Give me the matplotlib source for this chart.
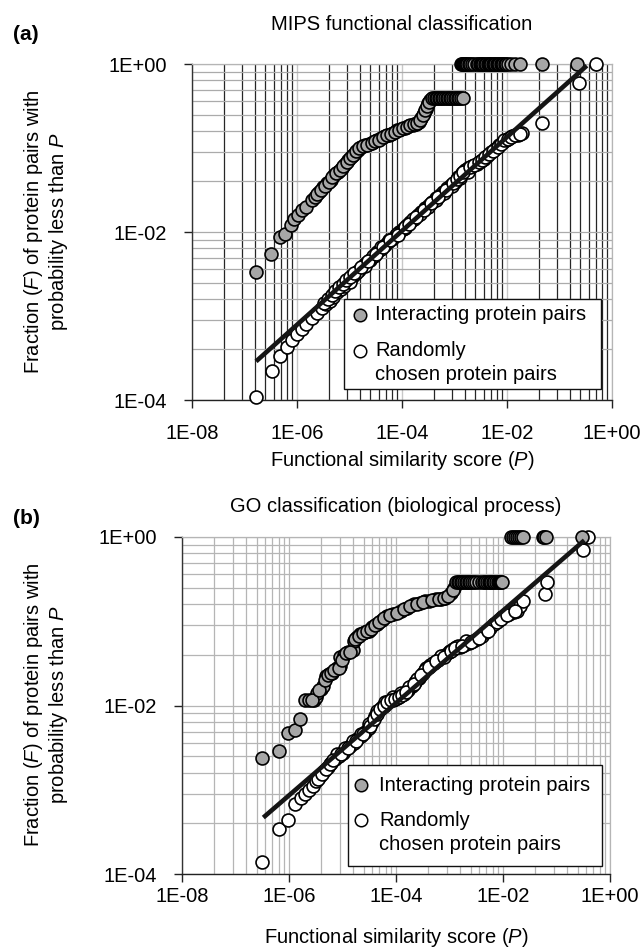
import matplotlib
matplotlib.use('Agg')
import matplotlib.pyplot as plt
from matplotlib.ticker import FixedLocator, NullFormatter
from matplotlib.patches import Rectangle

plt.rcParams['font.family'] = ['Liberation Sans', 'DejaVu Sans']
plt.rcParams['mathtext.fontset'] = 'custom'
plt.rcParams['mathtext.rm'] = 'Liberation Sans'
plt.rcParams['mathtext.it'] = 'Liberation Sans:italic'

# ---------------- data (log10 values) ----------------
# Panel (a) MIPS functional classification - interacting pairs
a_int_logp = [-6.79, -6.49, -6.32, -6.22, -6.12, -6.05, -5.98, -5.90, -5.82, -5.72,
              -5.66, -5.58, -5.50, -5.42, -5.36, -5.30, -5.22, -5.15, -5.08, -5.02,
              -4.96, -4.90, -4.84, -4.78, -4.70, -4.62, -4.55, -4.48, -4.40, -4.32,
              -4.25, -4.18, -4.10, -4.02, -3.95, -3.88, -3.80, -3.74, -3.68, -3.63,
              -3.58, -3.54, -3.50, -3.46,
              -5.62, -5.54, -5.46, -5.39, -5.33, -5.26, -5.19, -5.12, -5.05, -4.99,
              -4.93, -4.87, -4.81, -4.74, -4.66, -4.58, -4.51, -4.44, -4.36, -4.28,
              -4.21, -4.14, -4.06, -3.98, -3.91, -3.84, -3.77, -3.71, -3.65, -3.60,
              -3.56, -3.52, -3.48,
              -3.42, -3.39, -3.36, -3.33, -3.30, -3.27, -3.24, -3.21, -3.18, -3.15,
              -3.12, -3.09, -3.06, -3.03, -3.00, -2.97, -2.94, -2.91, -2.88, -2.84,
              -2.88, -2.86, -2.84, -2.82, -2.80, -2.78, -2.76, -2.73, -2.70, -2.66,
              -2.62, -2.58, -2.55, -2.52, -2.50, -2.47, -2.45, -2.42, -2.40, -2.37,
              -2.35, -2.32, -2.30, -2.27, -2.25, -2.22, -2.20, -2.17, -2.15, -2.12,
              -2.10, -2.07, -2.04, -2.01, -1.98, -1.92, -1.84, -1.76, -1.33, -0.67]
a_int_logf = [-2.48, -2.26, -2.06, -2.02, -1.92, -1.85, -1.80, -1.74, -1.70, -1.62,
              -1.58, -1.52, -1.47, -1.42, -1.38, -1.32, -1.28, -1.24, -1.19, -1.14,
              -1.10, -1.06, -1.02, -0.99, -0.97, -0.95, -0.93, -0.91, -0.88, -0.86,
              -0.84, -0.82, -0.79, -0.77, -0.76, -0.74, -0.73, -0.71, -0.69, -0.64,
              -0.58, -0.53, -0.47, -0.43,
              -1.55, -1.50, -1.45, -1.40, -1.35, -1.30, -1.26, -1.21, -1.17, -1.12,
              -1.08, -1.04, -1.00, -0.98, -0.96, -0.94, -0.92, -0.90, -0.87, -0.85,
              -0.83, -0.81, -0.78, -0.76, -0.75, -0.73, -0.72, -0.70, -0.67, -0.61,
              -0.55, -0.50, -0.45,
              -0.41, -0.41, -0.41, -0.41, -0.41, -0.41, -0.41, -0.41, -0.41, -0.41,
              -0.41, -0.41, -0.41, -0.41, -0.41, -0.41, -0.41, -0.41, -0.41, -0.41,
              0.0, 0.0, 0.0, 0.0, 0.0, 0.0, 0.0, 0.0, 0.0, 0.0,
              0.0, 0.0, 0.0, 0.0, 0.0, 0.0, 0.0, 0.0, 0.0, 0.0,
              0.0, 0.0, 0.0, 0.0, 0.0, 0.0, 0.0, 0.0, 0.0, 0.0,
              0.0, 0.0, 0.0, 0.0, 0.0, 0.0, 0.0, 0.0, 0.0, 0.0]

# Panel (a) - randomly chosen pairs
a_rnd_logp = [-6.78, -6.48, -6.32, -6.20, -6.10, -6.00, -5.91, -5.82, -5.72, -5.62,
              -5.53, -5.45, -5.38, -5.31, -5.24, -5.17, -5.10, -5.03, -4.96, -4.89,
              -4.82, -4.75, -4.68, -4.61, -4.54, -4.47, -4.40, -4.33, -4.26, -4.19,
              -4.12, -4.05, -3.98, -3.91, -3.84, -3.77, -3.70, -3.63, -3.56, -3.49,
              -3.42, -3.35, -3.28, -3.21, -3.14, -3.07, -3.00, -2.93, -2.86, -2.80,
              -2.74, -2.66, -2.58, -2.50, -2.44, -2.38, -2.30, -2.22, -2.15, -2.08,
              -2.02, -1.96, -1.90, -1.80, -1.72, -1.33, -0.63, -0.31,
              -5.00, -4.85, -4.70, -4.55, -4.40, -4.25, -4.10, -3.95, -3.80, -3.65,
              -3.50, -3.35, -3.20, -3.05, -2.90, -2.75,
              -5.48, -5.41, -5.34, -5.27, -5.20, -5.13, -5.06, -4.99, -4.92, -4.78,
              -4.64, -4.50, -4.36, -4.22, -4.08, -3.94, -3.87, -3.73, -3.59, -3.45,
              -3.31, -3.17, -3.03, -2.96, -2.89, -2.83, -2.70, -2.62, -2.54, -2.47,
              -2.41, -2.34, -2.26, -2.18, -2.11, -2.05, -1.99, -1.93, -1.85, -1.76]
a_rnd_logf = [-3.97, -3.65, -3.48, -3.37, -3.29, -3.21, -3.15, -3.09, -3.02, -2.96,
              -2.90, -2.86, -2.82, -2.77, -2.72, -2.68, -2.64, -2.58, -2.54, -2.50,
              -2.45, -2.41, -2.37, -2.33, -2.29, -2.24, -2.20, -2.16, -2.12, -2.08,
              -2.04, -2.00, -1.96, -1.92, -1.88, -1.84, -1.80, -1.76, -1.72, -1.68,
              -1.64, -1.60, -1.56, -1.52, -1.48, -1.44, -1.40, -1.35, -1.30, -1.26,
              -1.24, -1.22, -1.19, -1.16, -1.13, -1.10, -1.05, -1.01, -0.97, -0.93,
              -0.90, -0.88, -0.86, -0.84, -0.82, -0.70, -0.23, 0.0,
              -2.60, -2.48, -2.40, -2.28, -2.18, -2.10, -2.02, -1.95, -1.85, -1.78,
              -1.70, -1.62, -1.53, -1.45, -1.36, -1.28,
              -2.84, -2.80, -2.75, -2.70, -2.66, -2.62, -2.57, -2.53, -2.49, -2.42,
              -2.34, -2.26, -2.18, -2.10, -2.03, -1.94, -1.90, -1.82, -1.74, -1.66,
              -1.58, -1.50, -1.42, -1.37, -1.33, -1.28, -1.23, -1.20, -1.17, -1.14,
              -1.11, -1.07, -1.03, -0.99, -0.95, -0.91, -0.89, -0.87, -0.85, -0.83]

a_fit_logp = [-6.78, -0.48]
a_fit_logf = [-3.54, -0.02]

# Panel (b) GO classification (biological process) - interacting pairs
b_int_logp = [-6.50, -6.18, -6.02, -5.88, -5.79, -5.70, -5.62, -5.54, -5.50, -5.47,
              -5.40, -5.36, -5.31, -5.25, -5.20, -5.10, -5.04, -5.04, -4.98, -4.90,
              -4.81, -4.79, -4.73, -4.67, -4.58, -4.51, -4.44, -4.36, -4.27, -4.17,
              -4.05, -3.90, -3.80, -3.67, -3.55, -3.45, -3.38, -3.25, -3.15, -3.08,
              -2.97, -2.92,
              -5.57, -5.43, -5.33, -5.28, -5.22, -5.15, -5.07, -5.01, -4.94, -4.86,
              -4.76, -4.70, -4.62, -4.55, -4.47, -4.40, -4.32, -4.22, -4.11, -3.98,
              -3.85, -3.73, -3.61, -3.50, -3.32, -3.20, -3.11, -3.02, -2.94,
              -2.88, -2.85, -2.82, -2.79, -2.76, -2.73, -2.70, -2.67, -2.64, -2.61,
              -2.58, -2.54, -2.50, -2.45, -2.40, -2.36, -2.33, -2.30, -2.27, -2.24,
              -2.22, -2.19, -2.16, -2.13, -2.10, -2.07, -2.05, -2.03, -2.01,
              -1.85, -1.82, -1.78, -1.74, -1.70, -1.66, -1.62, -1.26, -1.23, -1.20,
              -0.53]
b_int_logf = [-2.62, -2.54, -2.33, -2.29, -2.16, -1.94, -1.94, -1.93, -1.90, -1.85,
              -1.80, -1.77, -1.65, -1.63, -1.61, -1.56, -1.53, -1.42, -1.40, -1.37,
              -1.34, -1.23, -1.19, -1.15, -1.13, -1.11, -1.07, -1.03, -0.99, -0.94,
              -0.91, -0.88, -0.84, -0.80, -0.78, -0.76, -0.76, -0.74, -0.73, -0.72,
              -0.66, -0.60,
              -1.94, -1.82, -1.70, -1.64, -1.62, -1.58, -1.55, -1.46, -1.38, -1.36,
              -1.21, -1.17, -1.14, -1.12, -1.09, -1.05, -1.01, -0.96, -0.93, -0.90,
              -0.86, -0.82, -0.79, -0.77, -0.75, -0.735, -0.725, -0.70, -0.63,
              -0.54, -0.54, -0.54, -0.54, -0.54, -0.54, -0.54, -0.54, -0.54, -0.54,
              -0.54, -0.54, -0.54, -0.54, -0.54, -0.54, -0.54, -0.54, -0.54, -0.54,
              -0.54, -0.54, -0.54, -0.54, -0.54, -0.54, -0.54, -0.54, -0.54,
              0.0, 0.0, 0.0, 0.0, 0.0, 0.0, 0.0, 0.0, 0.0, 0.0,
              0.0]

# Panel (b) - randomly chosen pairs
b_rnd_logp = [-6.50, -6.18, -6.02, -5.88, -5.77, -5.70, -5.63, -5.56, -5.49, -5.42,
              -5.35, -5.28, -5.21, -5.14, -5.07, -5.00, -4.93, -4.86, -4.79, -4.72,
              -4.65, -4.58, -4.51, -4.45, -4.39, -4.33, -4.27, -4.20, -4.13, -4.06,
              -3.99, -3.92, -3.85, -3.78, -3.71, -3.64, -3.57, -3.50, -3.43, -3.36,
              -3.29, -3.22, -3.15, -3.08, -3.01, -2.94, -2.87, -2.80, -2.72, -2.64,
              -2.56, -2.48, -2.40, -2.32, -2.24, -2.16, -2.08, -2.01, -1.95, -1.88,
              -1.80, -1.74, -1.68, -1.62, -1.21, -1.17, -0.51, -0.41,
              -5.10, -4.95, -4.80, -4.65, -4.50, -4.35, -4.20, -4.05, -3.90, -3.75,
              -3.60, -3.45, -3.30, -3.15, -3.00, -2.85, -2.70,
              -5.45, -5.38, -5.31, -5.24, -5.17, -5.03, -4.89, -4.75, -4.61, -4.48,
              -4.42, -4.36, -4.30, -4.23, -4.16, -4.09, -4.02, -3.95, -3.88, -3.81,
              -3.67, -3.53, -3.39, -3.25, -3.11, -2.97, -2.90, -2.76, -2.60, -2.44,
              -2.28, -2.12, -2.04, -1.92, -1.77]
b_rnd_logf = [-3.86, -3.47, -3.36, -3.17, -3.10, -3.05, -3.00, -2.95, -2.90, -2.84,
              -2.78, -2.73, -2.68, -2.63, -2.60, -2.56, -2.52, -2.48, -2.44, -2.40,
              -2.36, -2.32, -2.27, -2.20, -2.13, -2.07, -2.02, -1.98, -1.95, -1.93,
              -1.91, -1.89, -1.86, -1.82, -1.77, -1.72, -1.67, -1.61, -1.56, -1.52,
              -1.49, -1.46, -1.43, -1.40, -1.37, -1.33, -1.31, -1.30, -1.28, -1.26,
              -1.24, -1.21, -1.18, -1.13, -1.08, -1.03, -0.99, -0.95, -0.93, -0.91,
              -0.89, -0.88, -0.82, -0.76, -0.68, -0.54, -0.15, 0.0,
              -2.58, -2.50, -2.42, -2.34, -2.22, -2.06, -1.96, -1.90, -1.85, -1.78,
              -1.68, -1.58, -1.50, -1.41, -1.35, -1.29, -1.24,
              -2.87, -2.81, -2.75, -2.70, -2.65, -2.58, -2.50, -2.42, -2.34, -2.24,
              -2.16, -2.10, -2.04, -2.00, -1.96, -1.94, -1.92, -1.90, -1.87, -1.84,
              -1.74, -1.64, -1.54, -1.47, -1.42, -1.35, -1.32, -1.29, -1.25, -1.20,
              -1.11, -1.01, -0.97, -0.92, -0.88]

b_fit_logp = [-6.48, -0.48]
b_fit_logf = [-3.33, -0.04]

x_tick_vals = [1e-8, 1e-6, 1e-4, 1e-2, 1e0]
x_tick_labels = ['1E-08', '1E-06', '1E-04', '1E-02', '1E+00']
y_tick_vals = [1e-4, 1e-2, 1e0]
y_tick_labels = ['1E-04', '1E-02', '1E+00']

titles = ['MIPS functional classification', 'GO classification (biological process)']
panel_letters = ['(a)', '(b)']
x_label = 'Functional similarity score ($P$)'
y_label = 'Fraction ($F$) of protein pairs with\nprobability less than $P$'
legend_labels = ['Interacting protein pairs', 'Randomly', 'chosen protein pairs']

# ---------------- layout ----------------
W, H = 643, 947
fig = plt.figure(figsize=(W / 100, H / 100), dpi=100)
FS = 14.5
GRAY_FILL = '#a6a6a6'


def rect(x0, x1, ytop, ybot):
    return [x0 / W, 1 - ybot / H, (x1 - x0) / W, (ybot - ytop) / H]


def base100_grid(lo_exp, hi_exp):
    pos = []
    e = lo_exp
    while e < hi_exp:
        for k in range(2, 10):
            pos.append(10.0 ** e * k * k)
        e += 2
    return pos


def panel(box, int_p, int_f, rnd_p, rnd_f, fit_p, fit_f, dark_vgrid, legbox,
          leg_pos, title, title_y, xlabel_y, ylabel_y, xpad):
    ax = fig.add_axes(rect(*box))
    ax.set_xscale('log')
    ax.set_yscale('log')
    ax.set_xlim(1e-8, 1)
    ax.set_ylim(1e-4, 1)
    ax.set_xticks(x_tick_vals)
    ax.set_xticklabels(x_tick_labels)
    ax.set_yticks(y_tick_vals)
    ax.set_yticklabels(y_tick_labels)
    ax.xaxis.set_minor_locator(FixedLocator(base100_grid(-8, 0)))
    ax.yaxis.set_minor_locator(FixedLocator(base100_grid(-4, 0)))
    ax.xaxis.set_minor_formatter(NullFormatter())
    ax.yaxis.set_minor_formatter(NullFormatter())
    ax.tick_params(which='minor', length=0)
    ax.tick_params(which='major', direction='out', length=6, width=1.0,
                   labelsize=FS, color='#222222')
    ax.tick_params(axis='y', pad=12.0)
    ax.tick_params(axis='x', pad=xpad)

    if dark_vgrid:
        ax.grid(True, which='minor', axis='x', color='#262626', lw=0.9)
        ax.grid(True, which='major', axis='x', color='#c8c8c8', lw=1.0)
        ax.grid(True, which='both', axis='y', color='#ababab', lw=0.9)
    else:
        ax.grid(True, which='both', axis='both', color='#b5b5b5', lw=0.9)
    ax.set_axisbelow(True)

    for s in ('top', 'right'):
        ax.spines[s].set_color('#b5b5b5')
        ax.spines[s].set_linewidth(0.9)
    ax.spines['left'].set_color('#333333')
    ax.spines['bottom'].set_color('#222222')
    ax.spines['left'].set_linewidth(1.0)
    ax.spines['bottom'].set_linewidth(1.0)

    ms = 9.3
    ax.plot([10 ** v for v in rnd_p], [10 ** v for v in rnd_f], 'o', ms=ms,
            mfc='white', mec='#000000', mew=1.2, clip_on=False, zorder=3)
    ax.plot([10 ** v for v in int_p], [10 ** v for v in int_f], 'o', ms=ms,
            mfc=GRAY_FILL, mec='#000000', mew=1.2, clip_on=False, zorder=4)
    ax.plot([10 ** v for v in fit_p], [10 ** v for v in fit_f], '-',
            color='#151515', lw=3.3, solid_capstyle='butt', zorder=5)

    # legend (drawn manually to mimic the original layout)
    lx0, lx1, ly0, ly1 = legbox
    ax.add_patch(Rectangle((lx0, ly0), lx1 - lx0, ly1 - ly0, transform=ax.transAxes,
                           facecolor='white', edgecolor='#111111', lw=1.0, zorder=8))
    mkx, y1, y2, y3, tx = leg_pos
    ax.plot([mkx], [y1], 'o', ms=9.0, mfc=GRAY_FILL, mec='#000000', mew=1.1,
            transform=ax.transAxes, zorder=9, clip_on=False)
    ax.plot([mkx], [y2], 'o', ms=9.0, mfc='white', mec='#000000', mew=1.1,
            transform=ax.transAxes, zorder=9, clip_on=False)
    for lab, yy in zip(legend_labels, (y1, y2, y3)):
        ax.text(tx, yy, lab, transform=ax.transAxes, fontsize=FS,
                va='center', ha='left', zorder=10)

    xc = (box[0] + box[1]) / 2 / W
    fig.text(xc, 1 - title_y / H, title, ha='center', va='center', fontsize=FS)
    fig.text(xc, 1 - xlabel_y / H, x_label, ha='center', va='center', fontsize=FS)
    fig.text(46 / W, 1 - ylabel_y / H, y_label, ha='center', va='center',
             rotation=90, fontsize=FS, multialignment='center', linespacing=1.12)
    return ax


ax_a = panel((192, 612, 64, 400), a_int_logp, a_int_logf, a_rnd_logp, a_rnd_logf,
             a_fit_logp, a_fit_logf, True,
             (0.363, 0.974, 0.033, 0.300), (0.400, 0.253, 0.147, 0.077, 0.436),
             titles[0], 25, 460, 232, 11.0)
ax_b = panel((182, 610, 537, 874), b_int_logp, b_int_logf, b_rnd_logp, b_rnd_logf,
             b_fit_logp, b_fit_logf, False,
             (0.387, 0.981, 0.024, 0.322), (0.419, 0.264, 0.160, 0.087, 0.460),
             titles[1], 507, 937, 705, 3.5)

fig.text(13 / W, 1 - 35 / H, panel_letters[0], fontsize=15, fontweight='bold',
         ha='left', va='center')
fig.text(13 / W, 1 - 518 / H, panel_letters[1], fontsize=15, fontweight='bold',
         ha='left', va='center')

fig.savefig('out.png', dpi=100)
